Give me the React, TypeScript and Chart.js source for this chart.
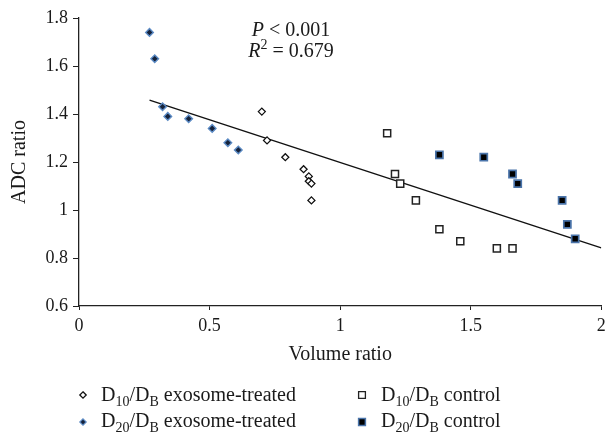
import React, { useEffect, useRef } from "react";
import { Chart, registerables } from "chart.js";

Chart.register(...registerables);

// Volume ratio (x) and ADC ratio (y) values
const d10ExoX = [0.70, 0.72, 0.79, 0.86, 0.88, 0.88, 0.89, 0.89];
const d10ExoY = [1.41, 1.29, 1.22, 1.17, 1.14, 1.12, 1.11, 1.04];
const d20ExoX = [0.27, 0.29, 0.32, 0.34, 0.42, 0.51, 0.57, 0.61];
const d20ExoY = [1.74, 1.63, 1.43, 1.39, 1.38, 1.34, 1.28, 1.25];
const d10CtrlX = [1.18, 1.21, 1.23, 1.29, 1.38, 1.46, 1.60, 1.66];
const d10CtrlY = [1.32, 1.15, 1.11, 1.04, 0.92, 0.87, 0.84, 0.84];
const d20CtrlX = [1.38, 1.55, 1.66, 1.68, 1.85, 1.87, 1.90];
const d20CtrlY = [1.23, 1.22, 1.15, 1.11, 1.04, 0.94, 0.88];
const trendX = [0.27, 2.0];
const trendY = [1.458, 0.842];

const xTicks = [0, 0.5, 1, 1.5, 2];
const yTicks = [0.6, 0.8, 1, 1.2, 1.4, 1.6, 1.8];
const xTitle = "Volume ratio";
const yTitle = "ADC ratio";
const statP = "0.001";
const statR2 = "0.679";

const FONT = "'Liberation Serif', 'Times New Roman', serif";
const TEXT = "#1a1a1a";

const pts = (xs: number[], ys: number[]) => xs.map((x, i) => ({ x, y: ys[i] }));

type Part = { t: string; sub?: boolean; sup?: boolean; italic?: boolean };

function richWidth(ctx: CanvasRenderingContext2D, parts: Part[], size: number) {
  let w = 0;
  for (const p of parts) {
    const s = p.sub || p.sup ? Math.round(size * 0.68) : size;
    ctx.font = `${p.italic ? "italic " : ""}${s}px ${FONT}`;
    w += ctx.measureText(p.t).width;
  }
  return w;
}

function drawRich(ctx: CanvasRenderingContext2D, x: number, y: number, parts: Part[], size: number) {
  let cx = x;
  for (const p of parts) {
    const s = p.sub || p.sup ? Math.round(size * 0.68) : size;
    ctx.font = `${p.italic ? "italic " : ""}${s}px ${FONT}`;
    const dy = p.sub ? size * 0.25 : p.sup ? -size * 0.4 : 0;
    ctx.fillText(p.t, cx, y + dy);
    cx += ctx.measureText(p.t).width;
  }
}

function legendLabel(a: string, rest: string): Part[] {
  return [
    { t: "D" },
    { t: a, sub: true },
    { t: "/D" },
    { t: "B", sub: true },
    { t: " " + rest },
  ];
}

const overlayPlugin = {
  id: "overlay",
  afterDraw(chart: any) {
    const ctx: CanvasRenderingContext2D = chart.ctx;
    ctx.save();
    ctx.fillStyle = TEXT;
    ctx.textBaseline = "alphabetic";
    ctx.textAlign = "left";
    // statistics annotation (centred)
    const pParts: Part[] = [{ t: "P", italic: true }, { t: " < " + statP }];
    const rParts: Part[] = [{ t: "R", italic: true }, { t: "2", sup: true }, { t: " = " + statR2 }];
    const cx = 291;
    drawRich(ctx, cx - richWidth(ctx, pParts, 20) / 2, 36, pParts, 20);
    drawRich(ctx, cx - richWidth(ctx, rParts, 20) / 2, 57, rParts, 20);

    // legend
    const items = [
      { mx: 83, my: 395, tx: 101, ty: 401, label: legendLabel("10", "exosome-treated"), kind: "openDiamond" },
      { mx: 83, my: 422, tx: 101, ty: 427, label: legendLabel("20", "exosome-treated"), kind: "blueDiamond" },
      { mx: 362, my: 395, tx: 381, ty: 401, label: legendLabel("10", "control"), kind: "openSquare" },
      { mx: 362, my: 422, tx: 381, ty: 427, label: legendLabel("20", "control"), kind: "filledSquare" },
    ];
    for (const it of items) {
      ctx.save();
      if (it.kind === "openDiamond" || it.kind === "blueDiamond") {
        const r = 3.2;
        ctx.beginPath();
        ctx.moveTo(it.mx, it.my - r);
        ctx.lineTo(it.mx + r, it.my);
        ctx.lineTo(it.mx, it.my + r);
        ctx.lineTo(it.mx - r, it.my);
        ctx.closePath();
        if (it.kind === "openDiamond") {
          ctx.fillStyle = "#fff";
          ctx.fill();
          ctx.lineWidth = 1.3;
          ctx.strokeStyle = "#111";
          ctx.stroke();
        } else {
          ctx.fillStyle = "#15223a";
          ctx.fill();
          ctx.lineWidth = 1.2;
          ctx.strokeStyle = "#5b8ac4";
          ctx.stroke();
        }
      } else {
        const h = 3.4;
        ctx.beginPath();
        ctx.rect(it.mx - h, it.my - h, 2 * h, 2 * h);
        if (it.kind === "openSquare") {
          ctx.fillStyle = "#fff";
          ctx.fill();
          ctx.lineWidth = 1.3;
          ctx.strokeStyle = "#222";
          ctx.stroke();
        } else {
          ctx.fillStyle = "#000";
          ctx.fill();
          ctx.lineWidth = 1.5;
          ctx.strokeStyle = "#4a74aa";
          ctx.stroke();
        }
      }
      ctx.restore();
      ctx.fillStyle = TEXT;
      drawRich(ctx, it.tx, it.ty, it.label, 20);
    }
    ctx.restore();
  },
};

const fmt = (v: any) => String(Math.round(Number(v) * 10) / 10);

export default function App() {
  const ref = useRef<HTMLCanvasElement | null>(null);
  useEffect(() => {
    if (!ref.current) return;
    const chart = new Chart(ref.current, {
      type: "scatter",
      data: {
        datasets: [
          {
            type: "line",
            label: "trend",
            data: pts(trendX, trendY),
            borderColor: "#111",
            borderWidth: 1.4,
            pointRadius: 0,
            fill: false,
            order: 5,
          } as any,
          {
            label: "D10/DB exosome-treated",
            data: pts(d10ExoX, d10ExoY),
            pointStyle: "rectRot",
            pointRadius: 3.5,
            backgroundColor: "#fff",
            borderColor: "#111",
            borderWidth: 1.3,
            order: 1,
          },
          {
            label: "D20/DB exosome-treated",
            data: pts(d20ExoX, d20ExoY),
            pointStyle: "rectRot",
            pointRadius: 3.8,
            backgroundColor: "#15223a",
            borderColor: "#5b8ac4",
            borderWidth: 1.4,
            order: 1,
          },
          {
            label: "D10/DB control",
            data: pts(d10CtrlX, d10CtrlY),
            pointStyle: "rect",
            pointRadius: 5,
            backgroundColor: "#fff",
            borderColor: "#222",
            borderWidth: 1.5,
            order: 1,
          },
          {
            label: "D20/DB control",
            data: pts(d20CtrlX, d20CtrlY),
            pointStyle: "rect",
            pointRadius: 5,
            backgroundColor: "#000",
            borderColor: "#4a74aa",
            borderWidth: 1.7,
            order: 1,
          },
        ],
      },
      options: {
        animation: false,
        responsive: true,
        maintainAspectRatio: false,
        events: [],
        layout: { padding: { top: 18, right: 0, left: 0, bottom: 0 } },
        plugins: {
          legend: { display: false },
          tooltip: { enabled: false },
        },
        scales: {
          x: {
            type: "linear",
            min: 0,
            max: 2,
            afterBuildTicks: (s: any) => {
              s.ticks = xTicks.map((v) => ({ value: v }));
            },
            afterFit: (s: any) => {
              s.height = 129;
              s.paddingRight = 4;
              s.paddingLeft = 0;
            },
            ticks: {
              callback: fmt,
              color: TEXT,
              padding: 5,
              maxRotation: 0,
              font: { family: FONT, size: 18 },
            },
            grid: {
              drawOnChartArea: false,
              drawTicks: true,
              tickLength: 4,
              color: "#222",
            },
            border: { display: true, color: "#222", width: 1.3 },
            title: {
              display: true,
              text: xTitle,
              color: TEXT,
              font: { family: FONT, size: 20 },
              padding: { top: 0, bottom: 68 },
            },
          },
          y: {
            type: "linear",
            min: 0.6,
            max: 1.8,
            afterBuildTicks: (s: any) => {
              s.ticks = yTicks.map((v) => ({ value: v }));
            },
            afterFit: (s: any) => {
              s.width = 79;
            },
            ticks: {
              callback: fmt,
              color: TEXT,
              padding: 5,
              font: { family: FONT, size: 18 },
            },
            grid: {
              drawOnChartArea: false,
              drawTicks: true,
              tickLength: 6,
              color: "#222",
            },
            border: { display: true, color: "#222", width: 1.3 },
            title: {
              display: true,
              text: yTitle,
              color: TEXT,
              font: { family: FONT, size: 20 },
              padding: { top: 8, bottom: 0 },
            },
          },
        },
      },
      plugins: [overlayPlugin],
    } as any);
    return () => chart.destroy();
  }, []);
  return (
    <div style={{ position: "absolute", left: 0, top: 0, width: 608, height: 435, background: "#fff" }}>
      <canvas ref={ref} />
    </div>
  );
}
